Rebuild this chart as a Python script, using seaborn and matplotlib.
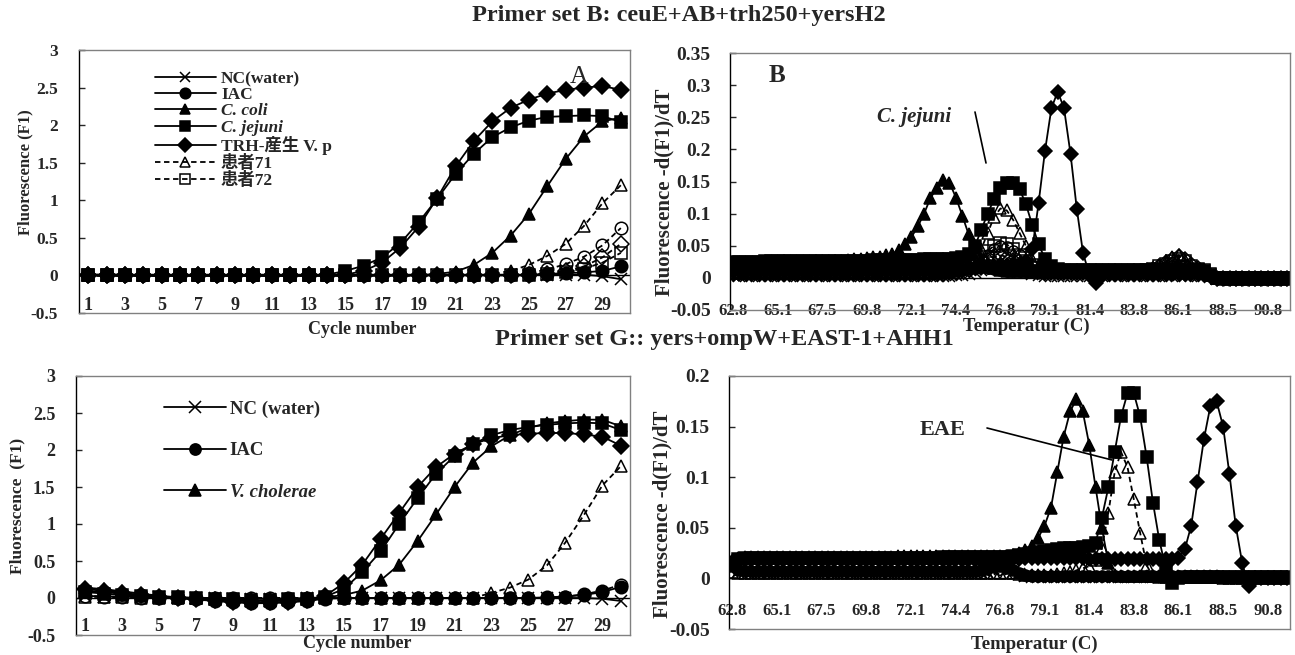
import numpy as np
import matplotlib
matplotlib.use("Agg")
import matplotlib.pyplot as plt
import seaborn as sns
from matplotlib.lines import Line2D
from matplotlib.ticker import FuncFormatter

sns.set_style("white")
plt.rcParams["font.family"] = ["Liberation Serif", "Noto Sans CJK JP"]
plt.rcParams["font.weight"] = "bold"
plt.rcParams["axes.unicode_minus"] = False

W, H = 1295, 655

# --- Amplifikation (Zyklus 1..30) ---
cycles = list(range(1, 31))
cycle_ticks = list(range(1, 30, 2))

# Primer set B
nc_amp_b = [0.01, 0.01, 0.01, 0.0, 0.0, 0.0, 0.0, 0.0, 0.0, 0.0,
            0.0, 0.0, 0.0, 0.0, 0.0, 0.0, 0.0, 0.0, 0.0, 0.0,
            0.0, 0.0, 0.0, 0.0, 0.0, 0.01, 0.01, 0.01, -0.01, -0.05]
iac_amp_b = [0.01, 0.01, 0.01, 0.01, 0.01, 0.01, 0.01, 0.01, 0.01, 0.01,
             0.01, 0.01, 0.01, 0.01, 0.01, 0.01, 0.01, 0.01, 0.01, 0.01,
             0.01, 0.01, 0.01, 0.01, 0.01, 0.02, 0.03, 0.04, 0.06, 0.12]
coli_amp_b = [0.0, 0.0, 0.0, 0.0, 0.0, 0.0, 0.0, 0.0, 0.0, 0.0,
              0.0, 0.0, 0.0, 0.0, 0.0, 0.0, 0.0, 0.0, 0.0, 0.02,
              0.05, 0.14, 0.3, 0.53, 0.82, 1.19, 1.55, 1.85, 2.05, 2.1]
jejuni_amp_b = [0.0, 0.0, 0.0, 0.0, 0.0, 0.0, 0.0, 0.0, 0.0, 0.0,
                0.0, 0.0, 0.0, 0.01, 0.06, 0.13, 0.24, 0.43, 0.71, 1.02,
                1.35, 1.62, 1.84, 1.97, 2.06, 2.11, 2.12, 2.13, 2.12, 2.04]
trh_amp_b = [0.0, 0.0, 0.0, 0.0, 0.0, 0.0, 0.0, 0.0, 0.0, 0.0,
             0.0, 0.0, 0.0, 0.0, 0.01, 0.06, 0.17, 0.37, 0.65, 1.03,
             1.45, 1.79, 2.05, 2.23, 2.34, 2.42, 2.47, 2.5, 2.52, 2.47]
p71_amp_b = [0.0, 0.0, 0.0, 0.0, 0.0, 0.0, 0.0, 0.0, 0.0, 0.0,
             0.0, 0.0, 0.0, 0.0, 0.0, 0.0, 0.0, 0.0, 0.0, 0.0,
             0.0, 0.0, 0.02, 0.06, 0.14, 0.26, 0.42, 0.66, 0.96, 1.2]
p72_amp_b = [0.0, 0.0, 0.0, 0.0, 0.0, 0.0, 0.0, 0.0, 0.0, 0.0,
             0.0, 0.0, 0.0, 0.0, 0.0, 0.0, 0.0, 0.0, 0.0, 0.0,
             0.0, 0.0, 0.0, 0.0, 0.0, 0.02, 0.05, 0.09, 0.17, 0.3]
circ_amp_b = [0.0, 0.0, 0.0, 0.0, 0.0, 0.0, 0.0, 0.0, 0.0, 0.0,
              0.0, 0.0, 0.0, 0.0, 0.0, 0.0, 0.0, 0.0, 0.0, 0.0,
              0.0, 0.0, 0.0, 0.0, 0.03, 0.08, 0.15, 0.25, 0.4, 0.63]
dia_amp_b = [0.0, 0.0, 0.0, 0.0, 0.0, 0.0, 0.0, 0.0, 0.0, 0.0,
             0.0, 0.0, 0.0, 0.0, 0.0, 0.0, 0.0, 0.0, 0.0, 0.0,
             0.0, 0.0, 0.0, 0.0, 0.0, 0.02, 0.06, 0.12, 0.24, 0.42]

# Primer set G
nc_amp_g = [0.03, 0.02, 0.02, 0.01, 0.01, 0.0, 0.0, 0.0, -0.01, -0.01,
            -0.01, -0.01, 0.0, 0.0, 0.0, 0.0, 0.0, 0.0, 0.0, 0.0,
            0.0, 0.0, 0.0, 0.0, 0.0, 0.0, 0.0, 0.0, -0.01, -0.04]
iac_amp_g = [0.1, 0.08, 0.06, 0.04, 0.02, 0.0, -0.02, -0.04, -0.06, -0.07,
             -0.07, -0.06, -0.04, -0.01, 0.0, 0.0, 0.0, 0.0, 0.0, 0.0,
             0.0, 0.0, 0.0, 0.0, 0.0, 0.01, 0.02, 0.04, 0.08, 0.15]
vc_amp_g = [0.14, 0.12, 0.09, 0.06, 0.03, 0.01, 0.0, -0.02, -0.03, -0.04,
            -0.04, -0.03, -0.01, 0.01, 0.04, 0.1, 0.24, 0.45, 0.77, 1.13,
            1.5, 1.83, 2.05, 2.2, 2.3, 2.36, 2.39, 2.41, 2.41, 2.32]
sq_amp_g = [0.08, 0.06, 0.04, 0.03, 0.02, 0.01, 0.0, -0.01, -0.02, -0.03,
            -0.03, -0.02, -0.01, 0.02, 0.12, 0.35, 0.63, 1.0, 1.35, 1.68,
            1.92, 2.08, 2.2, 2.27, 2.31, 2.34, 2.36, 2.37, 2.36, 2.27]
dia_amp_g = [0.12, 0.1, 0.07, 0.04, 0.02, 0.0, -0.02, -0.03, -0.05, -0.06,
             -0.06, -0.05, -0.03, 0.03, 0.2, 0.45, 0.8, 1.15, 1.5, 1.77,
             1.95, 2.08, 2.16, 2.2, 2.22, 2.23, 2.23, 2.21, 2.18, 2.06]
tri_amp_g = [0.02, 0.01, 0.01, 0.0, 0.0, 0.0, 0.0, 0.0, 0.0, 0.0,
             0.0, 0.0, 0.0, 0.0, 0.0, 0.0, 0.0, 0.0, 0.0, 0.0,
             0.0, 0.0, 0.07, 0.14, 0.25, 0.44, 0.75, 1.12, 1.52, 1.78]
circ_amp_g = [0.03, 0.02, 0.01, 0.0, 0.0, 0.0, 0.0, 0.0, 0.0, 0.0,
              0.0, 0.0, 0.0, 0.0, 0.0, 0.0, 0.0, 0.0, 0.0, 0.0,
              0.0, 0.0, 0.0, 0.0, 0.0, 0.0, 0.02, 0.05, 0.1, 0.18]

# --- Schmelzkurven (62.8 .. 91.8 C, Schritt 1/3 C) ---
temps = np.round(62.8 + np.arange(88) / 3, 2)
temp_labels = ["62.8", "65.1", "67.5", "69.8", "72.1", "74.4", "76.8",
               "79.1", "81.4", "83.8", "86.1", "88.5", "90.8"]

nc_melt_b = [
    0.004, 0.003, 0.003, 0.003, 0.003, 0.003, 0.003, 0.003, 0.003, 0.003, 0.003,
    0.003, 0.003, 0.003, 0.003, 0.003, 0.003, 0.003, 0.003, 0.003, 0.003, 0.003,
    0.003, 0.003, 0.003, 0.003, 0.003, 0.003, 0.003, 0.003, 0.003, 0.003, 0.003,
    0.003, 0.003, 0.004, 0.005, 0.006, 0.009, 0.013, 0.018, 0.022, 0.024, 0.022,
    0.018, 0.013, 0.009, 0.006, 0.004, 0.003, 0.003, 0.003, 0.003, 0.003, 0.003,
    0.003, 0.003, 0.003, 0.003, 0.003, 0.003, 0.003, 0.003, 0.003, 0.003, 0.003,
    0.003, 0.003, 0.003, 0.003, 0.004, 0.003, 0.003, 0.003, 0.003, 0.002, -0.002,
    -0.003, -0.003, -0.003, -0.003, -0.003, -0.003, -0.003, -0.003, -0.003, -0.003, -0.003]
iac_melt_b = [
    0.013, 0.012, 0.012, 0.012, 0.012, 0.012, 0.012, 0.012, 0.012, 0.012, 0.012,
    0.012, 0.012, 0.012, 0.012, 0.012, 0.012, 0.012, 0.012, 0.012, 0.012, 0.012,
    0.012, 0.012, 0.012, 0.012, 0.012, 0.012, 0.012, 0.012, 0.012, 0.012, 0.012,
    0.012, 0.012, 0.013, 0.014, 0.015, 0.016, 0.017, 0.016, 0.014, 0.012, 0.011,
    0.010, 0.010, 0.010, 0.010, 0.010, 0.010, 0.010, 0.010, 0.010, 0.010, 0.010,
    0.010, 0.010, 0.010, 0.010, 0.010, 0.010, 0.010, 0.010, 0.010, 0.010, 0.010,
    0.010, 0.010, 0.010, 0.010, 0.010, 0.010, 0.010, 0.010, 0.010, 0.004, 0.0,
    0.0, 0.0, 0.0, 0.0, 0.0, 0.0, 0.0, 0.0, 0.0, 0.0, 0.0]
coli_melt_b = [
    0.020, 0.021, 0.021, 0.022, 0.022, 0.023, 0.023, 0.023, 0.024, 0.024, 0.024,
    0.025, 0.025, 0.025, 0.026, 0.026, 0.027, 0.027, 0.028, 0.029, 0.030, 0.031,
    0.032, 0.033, 0.035, 0.037, 0.044, 0.052, 0.063, 0.080, 0.100, 0.124, 0.140,
    0.153, 0.148, 0.125, 0.097, 0.068, 0.046, 0.030, 0.020, 0.015, 0.012, 0.011,
    0.010, 0.010, 0.010, 0.010, 0.010, 0.010, 0.010, 0.010, 0.010, 0.010, 0.010,
    0.010, 0.010, 0.010, 0.010, 0.010, 0.010, 0.010, 0.010, 0.010, 0.010, 0.010,
    0.010, 0.010, 0.010, 0.010, 0.011, 0.011, 0.010, 0.010, 0.009, 0.004, 0.0,
    0.0, 0.0, 0.0, 0.0, 0.0, 0.0, 0.0, 0.0, 0.0, 0.0, 0.0]
jejuni_melt_b = [
    0.025, 0.025, 0.025, 0.025, 0.025, 0.026, 0.026, 0.026, 0.026, 0.026, 0.026,
    0.027, 0.027, 0.027, 0.027, 0.027, 0.027, 0.027, 0.027, 0.027, 0.027, 0.027,
    0.028, 0.028, 0.028, 0.028, 0.028, 0.028, 0.028, 0.028, 0.029, 0.029, 0.029,
    0.030, 0.030, 0.031, 0.033, 0.037, 0.050, 0.075, 0.100, 0.123, 0.140, 0.147,
    0.148, 0.138, 0.115, 0.082, 0.052, 0.030, 0.018, 0.014, 0.013, 0.012, 0.012,
    0.012, 0.012, 0.012, 0.012, 0.012, 0.012, 0.012, 0.012, 0.012, 0.012, 0.012,
    0.012, 0.012, 0.012, 0.012, 0.012, 0.012, 0.012, 0.012, 0.011, 0.005, 0.0,
    0.0, 0.0, 0.0, 0.0, 0.0, 0.0, 0.0, 0.0, 0.0, 0.0, 0.0]
trh_melt_b = [
    0.010, 0.010, 0.010, 0.010, 0.010, 0.010, 0.010, 0.010, 0.010, 0.010, 0.010,
    0.010, 0.010, 0.011, 0.011, 0.011, 0.011, 0.011, 0.011, 0.012, 0.012, 0.012,
    0.012, 0.012, 0.012, 0.012, 0.012, 0.012, 0.012, 0.012, 0.012, 0.012, 0.012,
    0.013, 0.013, 0.014, 0.014, 0.015, 0.015, 0.016, 0.017, 0.018, 0.019, 0.020,
    0.021, 0.022, 0.026, 0.045, 0.117, 0.197, 0.264, 0.290, 0.264, 0.193, 0.107,
    0.038, 0.004, -0.008, 0.004, 0.006, 0.006, 0.006, 0.006, 0.006, 0.006, 0.006,
    0.006, 0.006, 0.006, 0.006, 0.006, 0.006, 0.006, 0.006, 0.006, 0.003, 0.0,
    0.0, 0.0, 0.0, 0.0, 0.0, 0.0, 0.0, 0.0, 0.0, 0.0, 0.0]
p71_melt_b = [
    0.008, 0.008, 0.008, 0.008, 0.008, 0.008, 0.008, 0.008, 0.008, 0.008, 0.008,
    0.008, 0.008, 0.008, 0.008, 0.008, 0.008, 0.008, 0.008, 0.008, 0.008, 0.008,
    0.008, 0.008, 0.008, 0.008, 0.008, 0.008, 0.008, 0.008, 0.008, 0.008, 0.008,
    0.009, 0.010, 0.012, 0.016, 0.022, 0.030, 0.045, 0.070, 0.095, 0.108, 0.105,
    0.090, 0.070, 0.050, 0.030, 0.020, 0.014, 0.012, 0.011, 0.010, 0.010, 0.010,
    0.010, 0.010, 0.010, 0.010, 0.010, 0.010, 0.010, 0.010, 0.010, 0.012, 0.014,
    0.016, 0.020, 0.026, 0.032, 0.035, 0.028, 0.020, 0.014, 0.012, 0.006, 0.0,
    -0.002, -0.002, -0.002, -0.002, -0.002, -0.002, -0.002, -0.002, -0.002, -0.002, -0.002]
p72_melt_b = [
    0.009, 0.009, 0.009, 0.009, 0.009, 0.009, 0.009, 0.009, 0.009, 0.009, 0.009,
    0.009, 0.009, 0.009, 0.009, 0.009, 0.009, 0.009, 0.009, 0.009, 0.009, 0.009,
    0.009, 0.009, 0.009, 0.009, 0.009, 0.009, 0.009, 0.009, 0.009, 0.009, 0.009,
    0.010, 0.011, 0.012, 0.014, 0.018, 0.024, 0.032, 0.042, 0.050, 0.055, 0.052,
    0.045, 0.036, 0.027, 0.020, 0.015, 0.012, 0.011, 0.010, 0.010, 0.010, 0.010,
    0.010, 0.010, 0.010, 0.010, 0.010, 0.010, 0.010, 0.010, 0.010, 0.011, 0.012,
    0.014, 0.018, 0.022, 0.027, 0.030, 0.026, 0.019, 0.014, 0.012, 0.006, 0.0,
    0.0, 0.0, 0.0, 0.0, 0.0, 0.0, 0.0, 0.0, 0.0, 0.0, 0.0]
circ_melt_b = [
    0.007, 0.007, 0.007, 0.007, 0.007, 0.007, 0.007, 0.007, 0.007, 0.007, 0.007,
    0.007, 0.007, 0.007, 0.007, 0.007, 0.007, 0.007, 0.007, 0.007, 0.007, 0.007,
    0.007, 0.007, 0.007, 0.007, 0.007, 0.007, 0.007, 0.007, 0.007, 0.007, 0.007,
    0.008, 0.009, 0.010, 0.012, 0.016, 0.021, 0.028, 0.036, 0.045, 0.050, 0.048,
    0.042, 0.035, 0.025, 0.018, 0.013, 0.010, 0.009, 0.009, 0.009, 0.009, 0.009,
    0.009, 0.009, 0.009, 0.009, 0.009, 0.009, 0.009, 0.009, 0.009, 0.009, 0.009,
    0.010, 0.012, 0.015, 0.018, 0.020, 0.018, 0.014, 0.011, 0.010, 0.005, 0.0,
    0.0, 0.0, 0.0, 0.0, 0.0, 0.0, 0.0, 0.0, 0.0, 0.0, 0.0]
dia_melt_b = [
    0.006, 0.006, 0.006, 0.006, 0.006, 0.006, 0.006, 0.006, 0.006, 0.006, 0.006,
    0.006, 0.006, 0.006, 0.006, 0.006, 0.006, 0.006, 0.006, 0.006, 0.006, 0.006,
    0.006, 0.006, 0.006, 0.006, 0.006, 0.006, 0.006, 0.006, 0.006, 0.006, 0.006,
    0.006, 0.007, 0.008, 0.010, 0.013, 0.017, 0.022, 0.028, 0.033, 0.035, 0.033,
    0.028, 0.022, 0.016, 0.012, 0.009, 0.008, 0.008, 0.008, 0.008, 0.008, 0.008,
    0.008, 0.008, 0.008, 0.008, 0.008, 0.008, 0.008, 0.008, 0.008, 0.009, 0.011,
    0.014, 0.019, 0.025, 0.030, 0.034, 0.030, 0.022, 0.015, 0.010, 0.005, -0.002,
    -0.002, -0.002, -0.002, -0.002, -0.002, -0.002, -0.002, -0.002, -0.002, -0.002, -0.002]

nc_melt_g = [
    0.008, 0.006, 0.006, 0.005, 0.005, 0.005, 0.005, 0.005, 0.005, 0.005, 0.005,
    0.005, 0.005, 0.005, 0.005, 0.005, 0.005, 0.005, 0.005, 0.005, 0.005, 0.005,
    0.005, 0.005, 0.005, 0.005, 0.005, 0.005, 0.005, 0.005, 0.005, 0.005, 0.005,
    0.005, 0.005, 0.005, 0.005, 0.005, 0.005, 0.005, 0.006, 0.008, 0.009, 0.008,
    0.006, 0.004, 0.002, 0.001, 0.001, 0.001, 0.001, 0.001, 0.001, 0.001, 0.001,
    0.001, 0.001, 0.001, 0.001, 0.001, 0.001, 0.001, 0.001, 0.001, 0.001, 0.001,
    0.001, 0.001, 0.001, 0.001, 0.001, 0.001, 0.001, 0.001, 0.001, 0.001, 0.001,
    0.0, 0.0, 0.0, 0.0, 0.0, 0.0, 0.0, 0.0, 0.0, 0.0, 0.0]
iac_melt_g = [
    0.012, 0.008, 0.007, 0.007, 0.007, 0.007, 0.007, 0.007, 0.007, 0.007, 0.007,
    0.007, 0.007, 0.007, 0.007, 0.007, 0.007, 0.007, 0.007, 0.007, 0.007, 0.007,
    0.007, 0.007, 0.007, 0.007, 0.007, 0.007, 0.007, 0.007, 0.007, 0.007, 0.007,
    0.007, 0.007, 0.007, 0.007, 0.007, 0.007, 0.008, 0.009, 0.011, 0.012, 0.010,
    0.008, 0.005, 0.003, 0.002, 0.002, 0.002, 0.002, 0.002, 0.002, 0.002, 0.002,
    0.002, 0.002, 0.002, 0.002, 0.002, 0.002, 0.002, 0.002, 0.002, 0.002, 0.002,
    0.002, 0.002, 0.002, 0.002, 0.002, 0.002, 0.002, 0.002, 0.002, 0.002, 0.002,
    0.001, 0.001, 0.001, 0.001, 0.001, 0.001, 0.001, 0.001, 0.001, 0.001, 0.001]
vc_melt_g = [
    0.016, 0.020, 0.021, 0.021, 0.021, 0.021, 0.021, 0.021, 0.021, 0.021, 0.021,
    0.021, 0.021, 0.021, 0.021, 0.021, 0.021, 0.021, 0.021, 0.021, 0.021, 0.021,
    0.021, 0.021, 0.021, 0.021, 0.022, 0.022, 0.022, 0.022, 0.022, 0.022, 0.022,
    0.022, 0.022, 0.022, 0.022, 0.022, 0.022, 0.022, 0.022, 0.022, 0.022, 0.022,
    0.023, 0.025, 0.028, 0.032, 0.040, 0.052, 0.070, 0.105, 0.140, 0.165, 0.177,
    0.165, 0.132, 0.090, 0.050, 0.015, 0.003, 0.002, 0.002, 0.002, 0.002, 0.002,
    0.002, 0.002, 0.002, 0.002, 0.002, 0.002, 0.002, 0.002, 0.002, 0.002, 0.002,
    0.001, 0.001, 0.001, 0.001, 0.001, 0.001, 0.001, 0.001, 0.001, 0.001, 0.001]
sq_melt_g = [
    0.014, 0.019, 0.020, 0.020, 0.020, 0.020, 0.020, 0.020, 0.020, 0.020, 0.020,
    0.020, 0.020, 0.020, 0.020, 0.020, 0.020, 0.020, 0.020, 0.020, 0.020, 0.020,
    0.020, 0.020, 0.020, 0.020, 0.020, 0.020, 0.020, 0.020, 0.020, 0.020, 0.020,
    0.021, 0.021, 0.021, 0.021, 0.021, 0.021, 0.021, 0.021, 0.021, 0.021, 0.021,
    0.022, 0.023, 0.024, 0.025, 0.026, 0.027, 0.028, 0.029, 0.030, 0.030, 0.030,
    0.031, 0.032, 0.035, 0.060, 0.090, 0.125, 0.160, 0.183, 0.183, 0.160, 0.120,
    0.075, 0.038, 0.010, -0.005, 0.0, 0.001, 0.001, 0.001, 0.001, 0.001, 0.001,
    0.001, 0.001, 0.001, 0.001, 0.001, 0.001, 0.001, 0.001, 0.001, 0.001, 0.001]
dia_melt_g = [
    0.016, 0.018, 0.018, 0.018, 0.018, 0.018, 0.018, 0.018, 0.018, 0.018, 0.018,
    0.018, 0.018, 0.018, 0.018, 0.018, 0.018, 0.018, 0.018, 0.018, 0.018, 0.018,
    0.018, 0.018, 0.018, 0.018, 0.018, 0.018, 0.018, 0.018, 0.018, 0.018, 0.018,
    0.018, 0.018, 0.018, 0.018, 0.018, 0.018, 0.018, 0.018, 0.018, 0.018, 0.018,
    0.019, 0.019, 0.020, 0.020, 0.020, 0.020, 0.020, 0.020, 0.020, 0.020, 0.020,
    0.020, 0.019, 0.019, 0.019, 0.019, 0.019, 0.019, 0.019, 0.019, 0.019, 0.019,
    0.019, 0.019, 0.019, 0.019, 0.020, 0.029, 0.052, 0.095, 0.138, 0.170, 0.175,
    0.150, 0.103, 0.052, 0.015, -0.008, 0.0, 0.0, 0.0, 0.0, 0.0, 0.0]
eae_melt_g = [
    0.006, 0.005, 0.005, 0.005, 0.005, 0.005, 0.005, 0.005, 0.005, 0.005, 0.005,
    0.005, 0.005, 0.005, 0.005, 0.005, 0.005, 0.005, 0.005, 0.005, 0.005, 0.005,
    0.005, 0.005, 0.005, 0.005, 0.005, 0.005, 0.005, 0.005, 0.005, 0.005, 0.005,
    0.005, 0.005, 0.005, 0.005, 0.005, 0.005, 0.005, 0.005, 0.005, 0.005, 0.005,
    0.005, 0.004, 0.003, 0.003, 0.003, 0.003, 0.003, 0.004, 0.005, 0.006, 0.008,
    0.010, 0.012, 0.018, 0.030, 0.065, 0.105, 0.125, 0.110, 0.078, 0.045, 0.013,
    0.002, 0.001, 0.001, 0.001, 0.001, 0.001, 0.001, 0.001, 0.001, 0.001, 0.001,
    0.0, 0.0, 0.0, 0.0, 0.0, 0.0, 0.0, 0.0, 0.0, 0.0, 0.0]


def px(x, y):
    return x / W, 1 - y / H


def rect(l, t, r, b):
    return [l / W, 1 - b / H, (r - l) / W, (b - t) / H]


def curve(ax, x, y, marker, ms, hollow=False, dashed=False, label=None):
    sns.lineplot(x=x, y=y, ax=ax, color="black", marker=marker,
                 markersize=ms, markeredgecolor="black",
                 markerfacecolor="none" if hollow else "black",
                 markeredgewidth=1.1, linewidth=1.3,
                 linestyle=(0, (3, 2)) if dashed else "-",
                 label=label, errorbar=None, legend=False)


def frame(ax, ylim, yticks, ysize, xsize, xpad, ypad):
    ax.set_ylim(*ylim)
    ax.set_yticks(yticks)
    ax.yaxis.set_major_formatter(FuncFormatter(lambda v, p: f"{v:g}"))
    ax.tick_params(axis="y", left=True, direction="in", length=4, width=1,
                   pad=ypad, labelsize=ysize)
    ax.tick_params(axis="x", bottom=True, length=0, pad=xpad, labelsize=xsize)
    for s in ax.spines.values():
        s.set_color("#808080")
        s.set_linewidth(1)
    ax.spines["left"].set_color("black")
    ax.axhline(0, color="black", lw=1, zorder=1)
    ax.set_xlabel("")
    ax.set_ylabel("")


fig = plt.figure(figsize=(12.95, 6.55), dpi=100)
ax_a = fig.add_axes(rect(79, 50, 630, 313))
ax_b = fig.add_axes(rect(730, 53, 1290, 310))
ax_c = fig.add_axes(rect(76, 376, 630, 635))
ax_d = fig.add_axes(rect(729, 376, 1290, 629))

# Panel A
ms = 9
curve(ax_a, cycles, circ_amp_b, "o", ms, hollow=True, dashed=True)
curve(ax_a, cycles, dia_amp_b, "D", ms - 1, hollow=True, dashed=True)
curve(ax_a, cycles, p72_amp_b, "s", ms, hollow=True, dashed=True, label="患者72")
curve(ax_a, cycles, p71_amp_b, "^", ms, hollow=True, dashed=True, label="患者71")
curve(ax_a, cycles, nc_amp_b, "x", ms, label="NC(water)")
curve(ax_a, cycles, iac_amp_b, "o", ms, label="IAC")
curve(ax_a, cycles, coli_amp_b, "^", ms, label="C. coli")
curve(ax_a, cycles, jejuni_amp_b, "s", ms, label="C. jejuni")
curve(ax_a, cycles, trh_amp_b, "D", ms - 1, label="TRH-産生 V. p")
ax_a.set_xlim(0.5, 30.5)
ax_a.set_xticks(cycle_ticks)
frame(ax_a, (-0.5, 3), [-0.5, 0, 0.5, 1, 1.5, 2, 2.5, 3], 12.5, 13, -11.5, 15)

h, l = ax_a.get_legend_handles_labels()
lookup = dict(zip(l, h))
order = ["NC(water)", "IAC", "C. coli", "C. jejuni", "TRH-産生 V. p", "患者71", "患者72"]
leg = ax_a.legend([lookup[k] for k in order], order, loc="upper left",
                  bbox_to_anchor=(0.138, 0.92), frameon=False, fontsize=12.5,
                  handlelength=3.5, handletextpad=0.3, labelspacing=0.0,
                  markerscale=0.85, borderpad=0, borderaxespad=0)
for t in leg.get_texts():
    if t.get_text().startswith("C."):
        t.set_fontstyle("italic")

# Panel B
ms2 = 8
curve(ax_b, temps, circ_melt_b, "o", ms2, hollow=True, dashed=True)
curve(ax_b, temps, dia_melt_b, "D", ms2 - 1, hollow=True, dashed=True)
curve(ax_b, temps, p72_melt_b, "s", ms2, hollow=True, dashed=True)
curve(ax_b, temps, p71_melt_b, "^", ms2, hollow=True, dashed=True)
curve(ax_b, temps, nc_melt_b, "x", ms2)
curve(ax_b, temps, iac_melt_b, "o", ms2)
curve(ax_b, temps, coli_melt_b, "^", ms2)
curve(ax_b, temps, jejuni_melt_b, "s", ms2)
curve(ax_b, temps, trh_melt_b, "D", ms2 - 0.5)
ax_b.set_xlim(temps[0] - 1 / 6, temps[-1] + 1 / 6)
ax_b.set_xticks(temps[::7])
ax_b.set_xticklabels(temp_labels)
frame(ax_b, (-0.05, 0.35), [-0.05, 0, 0.05, 0.1, 0.15, 0.2, 0.25, 0.3, 0.35],
      14, 12, -5, 14)

# Panel C
curve(ax_c, cycles, circ_amp_g, "o", ms, hollow=True, dashed=True)
curve(ax_c, cycles, tri_amp_g, "^", ms, hollow=True, dashed=True)
curve(ax_c, cycles, nc_amp_g, "x", ms, label="NC (water)")
curve(ax_c, cycles, iac_amp_g, "o", ms, label="IAC")
curve(ax_c, cycles, sq_amp_g, "s", ms)
curve(ax_c, cycles, dia_amp_g, "D", ms - 1)
curve(ax_c, cycles, vc_amp_g, "^", ms, label="V. cholerae")
ax_c.set_xlim(0.5, 30.5)
ax_c.set_xticks(cycle_ticks)
frame(ax_c, (-0.5, 3), [-0.5, 0, 0.5, 1, 1.5, 2, 2.5, 3], 13, 13, -12, 15)

h, l = ax_c.get_legend_handles_labels()
lookup = dict(zip(l, h))
order = ["NC (water)", "IAC", "V. cholerae"]
leg = ax_c.legend([lookup[k] for k in order], order, loc="upper left",
                  bbox_to_anchor=(0.159, 0.905), frameon=False, fontsize=13.5,
                  handlelength=3.3, handletextpad=0.2, labelspacing=1.3,
                  markerscale=0.9, borderpad=0, borderaxespad=0)
leg.get_texts()[2].set_fontstyle("italic")

# Panel D
curve(ax_d, temps, eae_melt_g, "^", ms2, hollow=True, dashed=True)
curve(ax_d, temps, nc_melt_g, "x", ms2)
curve(ax_d, temps, iac_melt_g, "o", ms2)
curve(ax_d, temps, vc_melt_g, "^", ms2)
curve(ax_d, temps, sq_melt_g, "s", ms2)
curve(ax_d, temps, dia_melt_g, "D", ms2 - 0.5)
ax_d.set_xlim(temps[0] - 1 / 6, temps[-1] + 1 / 6)
ax_d.set_xticks(temps[::7])
ax_d.set_xticklabels(temp_labels)
frame(ax_d, (-0.05, 0.2), [-0.05, 0, 0.05, 0.1, 0.15, 0.2], 14, 12, -19, 14)

# Titel, Achsenbeschriftungen, Hinweise
fig.text(*px(679, 16), "Primer set B: ceuE+AB+trh250+yersH2", ha="center",
         va="center", fontsize=17.5)
fig.text(*px(724, 339), "Primer set G:: yers+ompW+EAST-1+AHH1", ha="center",
         va="center", fontsize=17.5)

fig.text(*px(25, 172), "Fluorescence (F1)", rotation=90, ha="center", va="center", fontsize=12)
fig.text(*px(17, 506), "Fluorescence  (F1)", rotation=90, ha="center", va="center", fontsize=12.5)
fig.text(*px(664, 192), "Fluorescence -d(F1)/dT", rotation=90, ha="center", va="center", fontsize=15)
fig.text(*px(662, 514), "Fluorescence -d(F1)/dT", rotation=90, ha="center", va="center", fontsize=15)

fig.text(*px(362, 330), "Cycle number", ha="center", va="center", fontsize=13)
fig.text(*px(357, 643), "Cycle number", ha="center", va="center", fontsize=13)
fig.text(*px(1026, 326), "Temperatur (C)", ha="center", va="center", fontsize=13.5)
fig.text(*px(1034, 644), "Temperatur (C)", ha="center", va="center", fontsize=13.5)

fig.text(*px(579, 77), "A", ha="center", va="center", fontsize=18.5, fontweight="normal")
fig.text(*px(777, 75), "B", ha="center", va="center", fontsize=18)
fig.text(*px(914, 117), "C. jejuni", ha="center", va="center", fontsize=15, fontstyle="italic")
fig.add_artist(Line2D([px(975, 112)[0], px(986, 163)[0]], [px(975, 112)[1], px(986, 163)[1]],
                      transform=fig.transFigure, color="black", lw=1.2))
fig.text(*px(943, 430), "EAE", ha="center", va="center", fontsize=16)
fig.add_artist(Line2D([px(987, 428)[0], px(1112, 460)[0]], [px(987, 428)[1], px(1112, 460)[1]],
                      transform=fig.transFigure, color="black", lw=1.2))

fig.savefig("out.png", dpi=100)
